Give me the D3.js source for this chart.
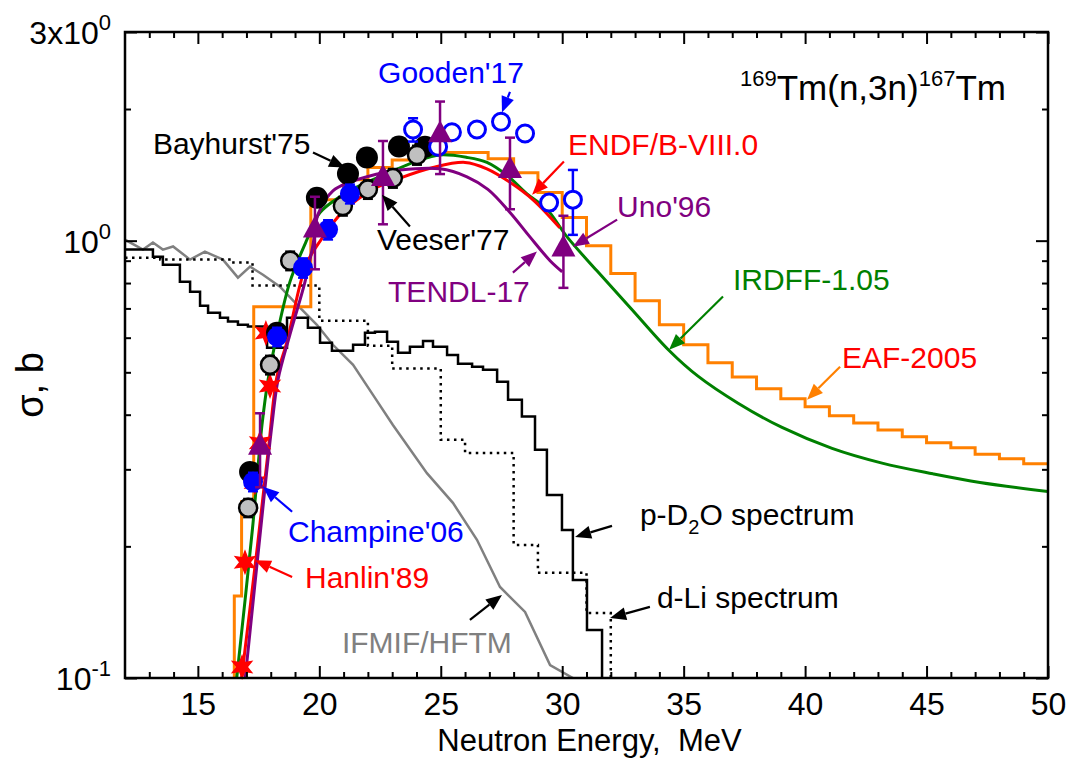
<!DOCTYPE html>
<html>
<head>
<meta charset="utf-8">
<script src="https://cdn.jsdelivr.net/npm/d3@7"></script>
<style>
  body { margin: 0; background: #fff; }
  text { font-family: "Liberation Sans", Arial, sans-serif; }
</style>
</head>
<body>
<svg id="chart" width="1071" height="770"></svg>
<script>
const margin = { top: 32, right: 23, bottom: 92, left: 125 },
      width = 1071 - margin.left - margin.right,
      height = 770 - margin.top - margin.bottom;

// ---- data ----
const xMajor = [15, 20, 25, 30, 35, 40, 45, 50];
const yMajor = [0.1, 1, 3];
const yMinor = [0.2, 0.3, 0.4, 0.5, 0.6, 0.7, 0.8, 0.9, 2];

// EAF-2005 histogram (bin edges, values)
const eafEdges = [16.5, 16.8, 17.3, 19.65, 21, 22, 23, 24, 26.95, 28, 29, 30, 31, 32, 33, 34, 35, 36, 37, 38, 39,
                  40, 41, 42, 43, 44, 45, 46, 47, 48, 49, 50];
const eafValues = [0.154, 0.253, 0.706, 1.24, 1.379, 1.469, 1.53, 1.59, 1.54, 1.43, 1.288, 1.13, 0.974, 0.841,
                   0.729, 0.642, 0.578, 0.526, 0.488, 0.4585, 0.435, 0.417, 0.398, 0.383, 0.369, 0.356, 0.345,
                   0.336, 0.325, 0.317, 0.309];

// p-D2O neutron spectrum (solid step)
const pd2oEdges = [12.0, 13.15, 13.56, 14.26, 14.68, 15.09, 15.42, 15.91, 16.24, 16.65, 17.06, 17.85, 18.67, 19.53,
                   20.03, 20.52, 21.39, 21.88, 22.29, 22.79, 23.24, 23.73, 24.27, 24.68, 25.26, 25.71, 26.29, 26.74,
                   27.32, 27.77, 28.34, 28.88, 29.37, 29.99, 30.44, 31.02, 31.64];
const pd2oValues = [0.954, 0.919, 0.881, 0.806, 0.764, 0.710, 0.684, 0.666, 0.653, 0.642, 0.636, 0.569, 0.666,
                    0.632, 0.584, 0.560, 0.578, 0.616, 0.619, 0.587, 0.554, 0.572, 0.590, 0.572, 0.548, 0.523,
                    0.515, 0.507, 0.476, 0.433, 0.396, 0.3325, 0.262, 0.218, 0.1676, 0.1288];

// d-Li neutron spectrum (dotted step)
const dliEdges = [12, 13.45, 16.3, 17.25, 20, 22, 23, 25, 26, 28, 29, 31, 32];
const dliValues = [0.914, 0.905, 0.891, 0.79, 0.656, 0.575, 0.510, 0.3505, 0.327, 0.2015, 0.174, 0.1408];

// IFMIF/HFTM spectrum
const ifmif = [[12.0, 1.005], [12.74, 0.954], [13.15, 0.99], [13.56, 0.954], [13.98, 0.97], [14.68, 0.905],
               [15.29, 0.944], [16.03, 0.905], [16.65, 0.823], [17.15, 0.872], [17.68, 0.836], [18.38, 0.785],
               [19.08, 0.714], [19.9, 0.642], [20.56, 0.578], [21.39, 0.52], [22.21, 0.444], [23.03, 0.379],
               [24.43, 0.294], [25.5, 0.2515], [26.49, 0.207], [27.44, 0.1615], [28.47, 0.1416], [29.5, 0.107],
               [30.44, 0.1]];

// evaluations
const irdff = [[16.6, 0.1], [17.25, 0.22], [17.64, 0.379], [17.89, 0.481], [18.26, 0.61], [18.79, 0.805],
               [19.49, 1.005], [20.03, 1.16], [21.26, 1.30], [22.62, 1.41], [24.02, 1.52], [24.97, 1.57],
               [26.08, 1.55], [26.9, 1.51], [27.73, 1.41], [28.55, 1.28], [29.37, 1.18], [30.2, 1.02],
               [31.43, 0.853], [32.83, 0.70], [34.4, 0.561], [35.59, 0.49], [37.24, 0.425], [39.05, 0.374],
               [41.11, 0.335], [43.17, 0.31], [45.26, 0.293], [47.2, 0.28], [50, 0.267]];
const endf = [[16.8, 0.1], [17.45, 0.2], [17.9, 0.3325], [18.26, 0.49], [18.67, 0.588], [19.2, 0.79],
              [19.49, 0.891], [20.15, 1.02], [20.97, 1.165], [22.21, 1.31], [23.32, 1.39], [24.68, 1.47],
              [26.0, 1.51], [26.9, 1.46], [27.85, 1.36], [28.8, 1.24], [29.9, 1.07]];
const tendl = [[16.95, 0.1], [17.71, 0.255], [18.05, 0.379], [18.3, 0.481], [18.79, 0.61], [19.41, 0.805],
               [19.74, 0.979], [19.95, 1.15], [20.56, 1.30], [21.26, 1.36], [21.96, 1.40], [23.32, 1.45],
               [24.97, 1.46], [26.08, 1.40], [26.94, 1.31], [27.85, 1.16], [28.67, 1.02], [29.5, 0.90],
               [30.0, 0.849]];

// measurements
const bayhurst = [[17.15, 0.296], [18.26, 0.616], [19.9, 1.254], [21.18, 1.423], [21.96, 1.549], [23.28, 1.641],
                  [24.35, 1.64]];
const veeser = [[17.07, 0.245, 0.012], [17.97, 0.52, 0.026], [18.8, 0.90, 0.045], [20.97, 1.20, 0.06],
                [22.0, 1.31, 0.065], [23.03, 1.39, 0.07], [24.02, 1.57, 0.08]];
const champine = [[17.27, 0.281, 0.014], [18.26, 0.603, 0.03], [19.33, 0.867, 0.045], [20.36, 1.06, 0.055],
                  [21.26, 1.28, 0.065]];
const gooden = [[23.86, 1.795, 0.11], [24.89, 1.64, 0.05], [25.46, 1.77, 0.05], [26.49, 1.795, 0.05],
                [27.48, 1.87, 0.05], [28.47, 1.758, 0.05], [29.46, 1.222, 0.05], [30.44, 1.241, 0.21]];
const uno = [[17.56, 0.338, 0.065], [19.82, 1.06, 0.2], [22.62, 1.39, 0.3], [24.97, 1.75, 0.33],
             [27.85, 1.45, 0.27], [30.05, 0.96, 0.18]];
const hanlin = [[16.82, 0.106], [16.94, 0.184], [17.35, 0.28], [17.56, 0.345], [17.97, 0.465], [17.8, 0.615]];

// annotations: text, colour, E, sigma (left baseline)
const labels = [
  { t: "Gooden'17", c: "#0000ff", e: 22.42, s: 2.299 },
  { t: "Bayhurst'75", c: "#000", e: 13.15, s: 1.582 },
  { t: "ENDF/B-VIII.0", c: "#ff0000", e: 30.24, s: 1.573 },
  { t: "Veeser'77", c: "#000", e: 22.37, s: 0.954 },
  { t: "Uno'96", c: "#800080", e: 32.26, s: 1.135 },
  { t: "TENDL-17", c: "#800080", e: 22.83, s: 0.725 },
  { t: "IRDFF-1.05", c: "#008000", e: 37.03, s: 0.772 },
  { t: "EAF-2005", c: "#ff0000", e: 41.52, s: 0.512 },
  { t: "Champine'06", c: "#0000ff", e: 18.71, s: 0.2047 },
  { t: "Hanlin'89", c: "#ff0000", e: 19.41, s: 0.1607 },
  { t: "IFMIF/HFTM", c: "#808080", e: 20.93, s: 0.1141 },
  { t: "d-Li spectrum", c: "#000", e: 33.9, s: 0.1446 }
];
// arrows: from [E, sigma] to tip [E, sigma]
const arrows = [
  { c: "#0000ff", a: [27.85, 2.19], b: [27.52, 1.963] },
  { c: "#000", a: [19.74, 1.59], b: [21.06, 1.469] },
  { c: "#ff0000", a: [30.07, 1.517], b: [28.76, 1.274] },
  { c: "#000", a: [23.73, 1.077], b: [22.58, 1.274] },
  { c: "#800080", a: [32.26, 1.117], b: [30.44, 0.969] },
  { c: "#800080", a: [27.97, 0.845], b: [28.96, 0.944] },
  { c: "#008000", a: [36.62, 0.745], b: [34.4, 0.563] },
  { c: "#ff8000", a: [41.44, 0.515], b: [40.08, 0.433] },
  { c: "#0000ff", a: [18.88, 0.24], b: [17.68, 0.2736] },
  { c: "#ff0000", a: [18.88, 0.1703], b: [17.35, 0.186] },
  { c: "#000", a: [26.2, 0.1358], b: [27.52, 0.1549] },
  { c: "#000", a: [32.05, 0.2227], b: [30.53, 0.2102] },
  { c: "#000", a: [33.61, 0.1454], b: [31.97, 0.1372] }
];

// ---- chart ----
const svg = d3.select("#chart");
const g = svg.append("g").attr("transform", `translate(${margin.left},${margin.top})`);

const x = d3.scaleLinear().domain([12, 50]).range([0, width]);
const y = d3.scaleLog().domain([0.1, 3]).range([height, 0]);

g.append("defs").append("clipPath").attr("id", "clip")
  .append("rect").attr("width", width).attr("height", height);
const plot = g.append("g").attr("clip-path", "url(#clip)");

const line = d3.line().x(d => x(d[0])).y(d => y(d[1]));
const smooth = d3.line().x(d => x(d[0])).y(d => y(d[1])).curve(d3.curveCatmullRom.alpha(0.5));

function steps(edges, values) {
  const pts = [];
  values.forEach((v, i) => { pts.push([edges[i], v]); pts.push([edges[i + 1], v]); });
  return pts;
}

// spectra
plot.append("path").attr("d", line(ifmif))
  .attr("fill", "none").attr("stroke", "#808080").attr("stroke-width", 2.5);

const dliPts = steps(dliEdges, dliValues);
dliPts.push([dliEdges[dliEdges.length - 1], 0.05]);
plot.append("path").attr("d", line(dliPts))
  .attr("fill", "none").attr("stroke", "#000").attr("stroke-width", 2.5)
  .attr("stroke-dasharray", "2.5,4.5");

const pd2oPts = steps(pd2oEdges, pd2oValues);
pd2oPts.push([pd2oEdges[pd2oEdges.length - 1], 0.05]);
plot.append("path").attr("d", line(pd2oPts))
  .attr("fill", "none").attr("stroke", "#000").attr("stroke-width", 2.5);

// EAF histogram
const eafPts = [[eafEdges[0], 0.05]].concat(steps(eafEdges, eafValues));
plot.append("path").attr("d", line(eafPts))
  .attr("fill", "none").attr("stroke", "#ff8000").attr("stroke-width", 3);

// markers
function star(R, r) {
  const p = [];
  for (let i = 0; i < 12; i++) {
    const a = -Math.PI / 2 + i * Math.PI / 6;
    const rr = i % 2 ? r : R;
    p.push([rr * Math.cos(a), rr * Math.sin(a)]);
  }
  return "M" + p.join("L") + "Z";
}
const triangle = "M0,-14L12,8L-12,8Z";

function errorBars(data, color, w) {
  const eb = g.append("g").attr("stroke", color).attr("stroke-width", w).attr("fill", "none");
  data.forEach(d => {
    const x0 = x(d[0]), y1 = y(d[1] + d[2]), y2 = y(d[1] - d[2]);
    eb.append("line").attr("x1", x0).attr("x2", x0).attr("y1", y1).attr("y2", y2);
    eb.append("line").attr("x1", x0 - 5).attr("x2", x0 + 5).attr("y1", y1).attr("y2", y1);
    eb.append("line").attr("x1", x0 - 5).attr("x2", x0 + 5).attr("y1", y2).attr("y2", y2);
  });
}

g.append("g").selectAll("path").data(hanlin).enter().append("path")
  .attr("d", star(13, 6))
  .attr("transform", d => `translate(${x(d[0])},${y(d[1])})`)
  .attr("fill", "#ff0000");

g.append("g").selectAll("circle").data(bayhurst).enter().append("circle")
  .attr("cx", d => x(d[0])).attr("cy", d => y(d[1])).attr("r", 11).attr("fill", "#000");

errorBars(veeser, "#000", 2);
g.append("g").selectAll("circle").data(veeser).enter().append("circle")
  .attr("cx", d => x(d[0])).attr("cy", d => y(d[1])).attr("r", 9)
  .attr("fill", "#c0c0c0").attr("stroke", "#000").attr("stroke-width", 2.5);

errorBars(champine, "#0000ff", 2);
g.append("g").selectAll("circle").data(champine).enter().append("circle")
  .attr("cx", d => x(d[0])).attr("cy", d => y(d[1])).attr("r", 10).attr("fill", "#0000ff");

errorBars(gooden, "#0000ff", 2.5);
g.append("g").selectAll("circle").data(gooden).enter().append("circle")
  .attr("cx", d => x(d[0])).attr("cy", d => y(d[1])).attr("r", 8.5)
  .attr("fill", "#fff").attr("stroke", "#0000ff").attr("stroke-width", 3);

// evaluated curves
plot.append("path").attr("d", smooth(irdff))
  .attr("fill", "none").attr("stroke", "#008000").attr("stroke-width", 3);
plot.append("path").attr("d", smooth(endf))
  .attr("fill", "none").attr("stroke", "#ff0000").attr("stroke-width", 3);
plot.append("path").attr("d", smooth(tendl))
  .attr("fill", "none").attr("stroke", "#800080").attr("stroke-width", 3);

errorBars(uno, "#800080", 2.5);
g.append("g").selectAll("path").data(uno).enter().append("path")
  .attr("d", triangle)
  .attr("transform", d => `translate(${x(d[0])},${y(d[1])})`)
  .attr("fill", "#800080");

// arrows
arrows.forEach(ar => {
  const x1 = x(ar.a[0]), y1 = y(ar.a[1]), x2 = x(ar.b[0]), y2 = y(ar.b[1]);
  const ang = Math.atan2(y2 - y1, x2 - x1), L = 16, W = 6.5;
  const bx = x2 - L * Math.cos(ang), by = y2 - L * Math.sin(ang);
  g.append("line").attr("x1", x1).attr("y1", y1).attr("x2", bx).attr("y2", by)
    .attr("stroke", ar.c).attr("stroke-width", 2.2);
  g.append("path")
    .attr("d", `M${x2},${y2}L${bx - W * Math.sin(ang)},${by + W * Math.cos(ang)}L${bx + W * Math.sin(ang)},${by - W * Math.cos(ang)}Z`)
    .attr("fill", ar.c);
});

// labels
g.append("g").selectAll("text").data(labels).enter().append("text")
  .attr("x", d => x(d.e)).attr("y", d => y(d.s))
  .attr("fill", d => d.c).attr("font-size", 30)
  .text(d => d.t);

const pl = g.append("text").attr("x", x(33.2)).attr("y", y(0.2239)).attr("font-size", 30);
pl.append("tspan").text("p-D");
pl.append("tspan").attr("font-size", 20).attr("dy", 9).text("2");
pl.append("tspan").attr("dy", -9).text("O spectrum");

const tm = g.append("text").attr("x", x(37.32)).attr("y", y(2.102)).attr("font-size", 35);
tm.append("tspan").attr("font-size", 22).attr("dy", -14).text("169");
tm.append("tspan").attr("dy", 14).text("Tm(n,3n)");
tm.append("tspan").attr("font-size", 22).attr("dy", -14).text("167");
tm.append("tspan").attr("dy", 14).text("Tm");

// axes
const xMinor = d3.range(13, 50).filter(v => xMajor.indexOf(v) < 0);

g.append("g").attr("transform", `translate(0,${height})`)
  .call(d3.axisBottom(x).tickValues(xMajor).tickSizeInner(-12).tickSizeOuter(0).tickPadding(14)
    .tickFormat(d3.format("d")))
  .call(a => a.select(".domain").remove())
  .call(a => a.selectAll("text").attr("font-size", 32).attr("font-family", "Liberation Sans, Arial, sans-serif").attr("fill", "#000"))
  .call(a => a.selectAll("line").attr("stroke-width", 2));
g.append("g").attr("transform", `translate(0,${height})`)
  .call(d3.axisBottom(x).tickValues(xMinor).tickSize(-6).tickFormat(""))
  .call(a => a.select(".domain").remove())
  .call(a => a.selectAll("line").attr("stroke-width", 2));
g.append("g")
  .call(d3.axisTop(x).tickValues(xMajor).tickSize(-12).tickFormat(""))
  .call(a => a.select(".domain").remove())
  .call(a => a.selectAll("line").attr("stroke-width", 2));
g.append("g")
  .call(d3.axisTop(x).tickValues(xMinor).tickSize(-6).tickFormat(""))
  .call(a => a.select(".domain").remove())
  .call(a => a.selectAll("line").attr("stroke-width", 2));

[[d3.axisLeft, 0], [d3.axisRight, width]].forEach(([ax, pos]) => {
  g.append("g").attr("transform", `translate(${pos},0)`)
    .call(ax(y).tickValues(yMajor).tickSize(-12).tickFormat(""))
    .call(a => a.select(".domain").remove())
    .call(a => a.selectAll("line").attr("stroke-width", 2));
  g.append("g").attr("transform", `translate(${pos},0)`)
    .call(ax(y).tickValues(yMinor).tickSize(-6).tickFormat(""))
    .call(a => a.select(".domain").remove())
    .call(a => a.selectAll("line").attr("stroke-width", 2));
});

// y tick labels with exponents
const yLabels = [{ v: 0.1, m: "10", e: "-1" }, { v: 1, m: "10", e: "0" }, { v: 3, m: "3x10", e: "0" }];
yLabels.forEach(d => {
  const t = g.append("text").attr("x", -14).attr("y", y(d.v) + 12)
    .attr("text-anchor", "end").attr("font-size", 32);
  t.append("tspan").text(d.m);
  t.append("tspan").attr("font-size", 22).attr("dy", -14).text(d.e);
});

// frame
g.append("rect").attr("width", width).attr("height", height)
  .attr("fill", "none").attr("stroke", "#000").attr("stroke-width", 2.5);

// axis titles
g.append("text").attr("x", width / 2 + 3).attr("y", height + 73)
  .attr("text-anchor", "middle").attr("font-size", 31)
  .text("Neutron Energy,\u00a0 MeV");

g.append("text")
  .attr("transform", `translate(${43 - margin.left},${385 - margin.top}) rotate(-90)`)
  .attr("text-anchor", "middle").attr("font-size", 38)
  .text("\u03c3, b");
</script>
</body>
</html>
